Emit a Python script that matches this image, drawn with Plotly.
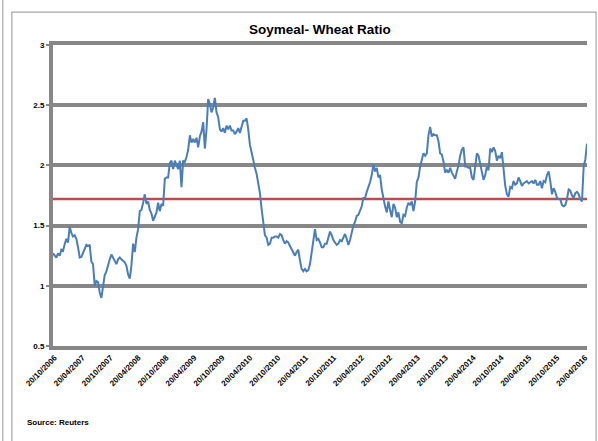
import pandas as pd
import plotly.graph_objects as go

start_date = "2006-10-09"
step = "262h"
ratio = [
    1.27, 1.25, 1.235, 1.27, 1.25, 1.30, 1.29, 1.345, 1.39, 1.36, 1.49, 1.44, 1.41, 1.42, 1.39, 1.32,
    1.235, 1.24, 1.27, 1.31, 1.34, 1.33, 1.34, 1.20, 1.18, 1.00, 1.04, 1.03, 0.945, 0.90, 1.02, 1.09,
    1.12, 1.18, 1.22, 1.26, 1.235, 1.21, 1.18, 1.22, 1.235, 1.22, 1.21, 1.195, 1.165, 1.095, 1.06, 1.17,
    1.35, 1.28, 1.40, 1.47, 1.62,
    1.63, 1.69, 1.76, 1.68, 1.70, 1.63, 1.60, 1.54, 1.57, 1.61, 1.69, 1.62, 1.68, 1.665, 1.89, 1.90,
    1.90, 2.02, 2.04, 1.97, 2.04, 2.00, 1.97, 2.04, 1.82, 2.04, 2.03, 2.07, 2.13, 2.25, 2.19, 2.22,
    2.19, 2.23, 2.15, 2.24, 2.28, 2.36, 2.14, 2.30, 2.55, 2.51, 2.44, 2.48, 2.56, 2.44, 2.40, 2.30,
    2.28, 2.31, 2.27,
    2.33, 2.30, 2.33, 2.29, 2.29, 2.26, 2.28, 2.31, 2.27, 2.32, 2.37, 2.37, 2.39, 2.30, 2.17, 2.11,
    2.03, 1.98, 1.93, 1.86, 1.77, 1.64, 1.50, 1.42, 1.40, 1.34, 1.35, 1.40, 1.40, 1.41, 1.41, 1.40,
    1.43, 1.42, 1.38, 1.35, 1.37, 1.36, 1.33, 1.30, 1.27, 1.25, 1.28, 1.30, 1.21, 1.14, 1.12, 1.14,
    1.12, 1.13, 1.18, 1.27, 1.35,
    1.47, 1.38, 1.39, 1.36, 1.32, 1.32, 1.35, 1.35, 1.40, 1.45, 1.42, 1.38, 1.36, 1.34, 1.35, 1.38,
    1.37, 1.40, 1.43, 1.39, 1.34, 1.38, 1.45, 1.50, 1.53, 1.58, 1.59, 1.62, 1.66, 1.73, 1.73, 1.78,
    1.82, 1.86, 1.92, 2.01, 1.95, 1.98, 1.90, 1.92, 1.80, 1.71, 1.66, 1.61, 1.70, 1.63, 1.57, 1.68,
    1.65, 1.57, 1.61, 1.53, 1.52,
    1.59, 1.58, 1.65, 1.69, 1.67, 1.70, 1.62, 1.70, 1.86, 1.90, 1.99, 2.06, 2.10, 2.08, 2.10, 2.25,
    2.32, 2.24, 2.26, 2.25, 2.25, 2.20, 2.10, 2.09, 2.03, 1.94, 1.96, 1.94, 1.98, 1.94, 1.92, 1.89,
    1.95, 2.00, 2.08, 2.13, 2.15, 1.99, 1.99, 1.98, 1.98, 1.90, 1.88, 1.99, 2.10, 2.08, 2.01, 1.94,
    1.88, 1.92, 1.99, 1.96,
    2.14, 2.11, 2.15, 2.12, 2.04, 2.08, 2.06, 2.11, 1.95, 1.83, 1.76, 1.74, 1.82, 1.81, 1.87, 1.84,
    1.85, 1.90, 1.87, 1.83, 1.85, 1.86, 1.87, 1.85, 1.86, 1.87, 1.85, 1.88, 1.84, 1.84, 1.87, 1.81,
    1.87, 1.86, 1.92, 1.95, 1.87, 1.76, 1.81, 1.78, 1.73, 1.72, 1.72, 1.67, 1.66, 1.67, 1.72, 1.80,
    1.79, 1.75, 1.73, 1.77, 1.78, 1.76, 1.72, 1.70, 1.99, 2.05, 2.18,
]
avg_ratio = 1.72

# axis labels every six months, on the 20th
tick_dates = pd.date_range("2006-10-01", periods=20, freq="6MS") + pd.Timedelta(days=19)
dates = pd.date_range(start_date, periods=len(ratio), freq=step)

grid_col = "#878787"
fam = "Liberation Sans Narrow, Liberation Sans, sans-serif"
lbl_font = dict(family=fam, size=8, color="#000000", weight="bold")

fig = go.Figure()

# long-run average line
fig.add_trace(go.Scatter(
    x=[dates[0], dates[-1]], y=[avg_ratio, avg_ratio],
    mode="lines", line=dict(color="#be4b48", width=2.5),
    hoverinfo="skip", showlegend=False,
))
fig.add_trace(go.Scatter(
    x=dates, y=ratio, mode="lines",
    line=dict(color="#4a7ebb", width=2),
    showlegend=False,
))

fig.update_layout(
    width=598, height=441,
    margin=dict(l=53, r=11, t=45, b=95),
    paper_bgcolor="white", plot_bgcolor="white",
    title=dict(
        text="Soymeal- Wheat Ratio", x=0.535, xanchor="center", y=0.933, yanchor="middle",
        font=dict(family=fam, size=13.5, color="#000000", weight="bold"),
    ),
    xaxis=dict(
        range=[dates[0], dates[-1]], automargin=False,
        tickvals=list(tick_dates), tickformat="%d/%m/%Y", tickangle=-45,
        tickfont=lbl_font, showgrid=False,
        showline=True, linecolor=grid_col, linewidth=4, mirror=True,
        ticks="", zeroline=False,
    ),
    yaxis=dict(
        range=[0.5, 3], dtick=0.5, automargin=False,
        tickfont=lbl_font, showgrid=True, gridcolor=grid_col, gridwidth=4,
        showline=True, linecolor=grid_col, linewidth=4,
        ticks="outside", ticklen=3, tickcolor=grid_col, tickwidth=2,
        zeroline=False,
    ),
    shapes=[
        dict(type="rect", xref="paper", yref="paper", x0=-0.077, x1=1.017, y0=-0.33, y1=1.109,
             line=dict(color="#a6a6a6", width=1.2)),
        dict(type="line", xref="paper", yref="paper", x0=-0.094, x1=-0.094, y0=-0.33, y1=1.16,
             line=dict(color="#a6a6a6", width=1.2)),
    ],
    annotations=[
        dict(text="Source: Reuters", xref="paper", yref="paper", x=-0.053, y=-0.255,
             xanchor="left", yanchor="middle", showarrow=False,
             font=dict(family=fam, size=8, color="#000000", weight="bold")),
    ],
)

fig.write_html("out.html", config={"displayModeBar": False},
               post_script="document.body.style.margin='0';")
